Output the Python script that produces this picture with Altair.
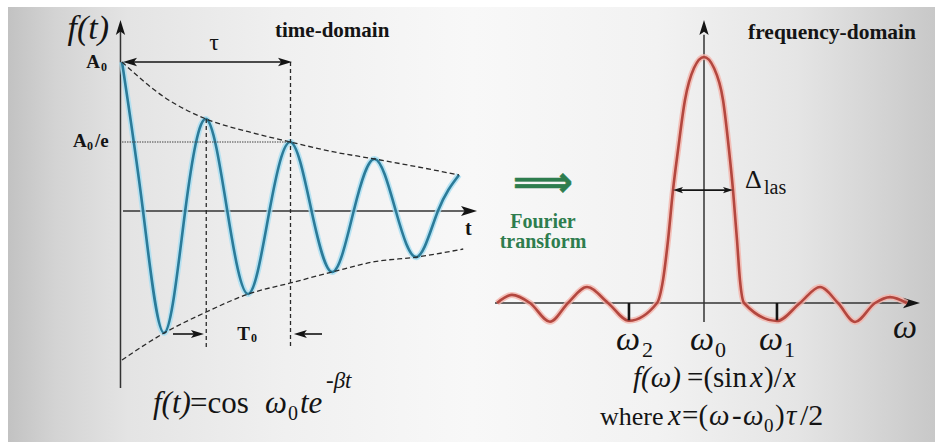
import altair as alt
import pandas as pd

W, H = 938, 447
SERIF = "Liberation Serif"
INK = "#141414"

# ---------------- time domain: damped cosine (t in periods T0, f in units of A0)
t_vals = [0, 0.25, 0.5, 0.75, 1, 1.25, 1.5, 1.75, 2, 2.25, 2.5, 2.75, 3, 3.25, 3.5, 3.75, 4]
f_vals = [1.0, 0, -0.819, 0, 0.617, 0, -0.557, 0, 0.463, 0, -0.409, 0, 0.349, 0, -0.309, 0, 0.242]

env_up_t = [0, 0.5, 1, 1.5, 2, 2.5, 3, 3.5, 4]
env_up = [1.0, 0.765, 0.617, 0.532, 0.463, 0.398, 0.349, 0.297, 0.242]
env_lo_t = [0, 0.5, 1, 1.5, 2, 2.5, 3, 3.5, 4.05]
env_lo = [-1.0, -0.819, -0.678, -0.557, -0.483, -0.409, -0.34, -0.309, -0.255]

A0 = 1.0
A0_e = 0.463
tau = 2.0
T0_marks = [1.0, 2.0]

# ---------------- frequency domain: sinc spectrum (w relative to w0)
w_vals = [-2.797, -2.595, -2.351, -2.081, -1.838, -1.581, -1.297, -1.014, -0.635,
          -0.554, -0.486, -0.419, -0.351, -0.257, -0.135, 0.0, 0.135, 0.257, 0.338,
          0.392, 0.446, 0.486, 0.541, 0.986, 1.297, 1.568, 1.811, 2.041, 2.311, 2.514, 2.743]
s_vals = [0, 0.033, 0, -0.076, 0, 0.065, 0, -0.072, 0,
          0.093, 0.256, 0.459, 0.622, 0.825, 0.955, 1.0, 0.955, 0.825, 0.622,
          0.459, 0.256, 0.093, 0, -0.073, 0, 0.065, 0, -0.077, 0, 0.024, 0]
w_ticks = [-1.014, 0.986]
half_width = [-0.419, 0.392]
half_level = 0.459


def scales(ox, kx, oy, ky):
    """Linear scales putting data origin at pixel (ox, oy), kx / ky pixels per unit."""
    xs = alt.Scale(domain=[-ox / kx, (W - ox) / kx], nice=False, zero=False)
    ys = alt.Scale(domain=[(oy - H) / ky, oy / ky], nice=False, zero=False)
    return xs, ys


SXL, SYL = scales(122, 84.25, 211, 149)
SXR, SYR = scales(704, 74, 303, 246)


def xy(sx, sy, x="x", y="y"):
    return dict(x=alt.X(f"{x}:Q", scale=sx, axis=None), y=alt.Y(f"{y}:Q", scale=sy, axis=None))


def line(xv, yv, sx, sy, **mark):
    df = pd.DataFrame({"x": xv, "y": yv, "i": range(len(xv))})
    return alt.Chart(df).mark_line(**mark).encode(order="i:Q", **xy(sx, sy))


def hrule(x1, x2, y, sx, sy, **mark):
    df = pd.DataFrame({"x": [x1], "x2": [x2], "y": [y]})
    return alt.Chart(df).mark_rule(**mark).encode(
        x=alt.X("x:Q", scale=sx, axis=None), x2="x2:Q", y=alt.Y("y:Q", scale=sy, axis=None))


def vrule(x, y1, y2, sx, sy, **mark):
    df = pd.DataFrame({"x": [x], "y": [y1], "y2": [y2]})
    return alt.Chart(df).mark_rule(**mark).encode(
        x=alt.X("x:Q", scale=sx, axis=None), y=alt.Y("y:Q", scale=sy, axis=None), y2="y2:Q")


ARROW = "M0,0L0.62,2L0,1.55L-0.62,2Z"


def head(x, y, angle, sx, sy, length=14, color=INK):
    df = pd.DataFrame({"x": [x], "y": [y]})
    return alt.Chart(df).mark_point(shape=ARROW, filled=True, size=length ** 2, angle=angle,
                                    color=color, opacity=1, strokeWidth=0).encode(**xy(sx, sy))


def note(x, y, text, sx, sy, size=20, italic=False, bold=False, align="left",
         baseline="alphabetic", dx=0, dy=0, color=INK, font=SERIF, **extra):
    df = pd.DataFrame({"x": [x], "y": [y]})
    if italic:
        extra["fontStyle"] = "italic"
    if bold:
        extra["fontWeight"] = "bold"
    return alt.Chart(df).mark_text(text=text, font=font, fontSize=size, align=align,
                                   baseline=baseline, dx=dx, dy=dy, color=color,
                                   **extra).encode(**xy(sx, sy))


# ---------------- background panel with soft grey gradient
bg = alt.Chart(pd.DataFrame({"k": [0]})).mark_rect(
    color=alt.Gradient(gradient="linear", x1=0, x2=1, y1=0, y2=0, stops=[
        alt.GradientStop(color="#c2c2c2", offset=0),
        alt.GradientStop(color="#d3d3d3", offset=0.05),
        alt.GradientStop(color="#e4e4e4", offset=0.13),
        alt.GradientStop(color="#f0f0f0", offset=0.3),
        alt.GradientStop(color="#f8f8f8", offset=0.5),
        alt.GradientStop(color="#f2f2f2", offset=0.7),
        alt.GradientStop(color="#e5e5e5", offset=0.85),
        alt.GradientStop(color="#d6d6d6", offset=0.93),
        alt.GradientStop(color="#c8c8c8", offset=1),
    ])
).encode(x=alt.value(8), x2=alt.value(935), y=alt.value(7), y2=alt.value(442))

layers = [bg]

# ---------------- left panel
L = (SXL, SYL)
layers += [
    vrule(-0.018, -1.188, 1.22, *L, color="#333", strokeWidth=1.5),
    head(-0.018, 1.282, 0, *L, length=15),
    hrule(0.012, 4.15, 0, *L, color="#333", strokeWidth=1.5),
    head(4.214, 0, 90, *L, length=16),
    line(t_vals, f_vals, *L, color="#a8def2", strokeWidth=6, interpolate="natural", opacity=0.8),
    line(t_vals, f_vals, *L, color="#2b7b99", strokeWidth=2.6, interpolate="natural"),
    line(env_up_t, env_up, *L, color="#2a2a2a", strokeWidth=1.3, strokeDash=[5, 3], interpolate="monotone"),
    line(env_lo_t, env_lo, *L, color="#2a2a2a", strokeWidth=1.3, strokeDash=[5, 3], interpolate="monotone"),
    hrule(0, tau, A0_e, *L, color="#444", strokeWidth=1, strokeDash=[1.5, 1]),
    vrule(T0_marks[0], env_up[2], -0.919, *L, color="#2a2a2a", strokeWidth=1.3, strokeDash=[4, 3]),
    vrule(T0_marks[1], A0, -0.919, *L, color="#2a2a2a", strokeWidth=1.3, strokeDash=[4, 3]),
    # tau span
    hrule(0.1, tau - 0.1, A0, *L, color=INK, strokeWidth=1.6),
    head(0.012, A0, 270, *L, length=14),
    head(tau + 0.018, A0, 90, *L, length=14),
    # T0 pointers
    hrule(0.605, 0.9, -0.8255, *L, color=INK, strokeWidth=1.6),
    head(0.973, -0.8255, 90, *L, length=13),
    hrule(2.1, 2.374, -0.8255, *L, color=INK, strokeWidth=1.6),
    head(2.04, -0.8255, 270, *L, length=13),
    # labels
    note(-0.154, 1.154, "f(t)", *L, size=34, italic=True, align="right"),
    note(-0.261, 0.960, "A", *L, size=19, bold=True, align="right"),
    note(-0.261, 0.960, "0", *L, size=12, bold=True, dx=1, dy=3),
    note(-0.582, 0.430, "A", *L, size=19, bold=True),
    note(-0.582, 0.430, "0", *L, size=12, bold=True, dx=14, dy=3),
    note(-0.582, 0.430, "/e", *L, size=19, bold=True, dx=22),
    note(1.092, 1.08, "τ", *L, size=24, align="center"),
    note(1.816, 1.168, "time-domain", *L, size=21, bold=True),
    note(4.071, -0.161, "t", *L, size=20, bold=True),
    note(1.519, -0.866, "T", *L, size=19, bold=True, align="right"),
    note(1.519, -0.866, "0", *L, size=12, bold=True, dx=1, dy=2),
    # f(t) = cos w0 t e^{-beta t}
    note(0.368, -1.356, "f(t)", *L, size=31, italic=True),
    note(0.368, -1.356, "=cos", *L, size=31, dx=37),
    note(0.368, -1.356, "ω", *L, size=31, italic=True, dx=112),
    note(0.368, -1.356, "0", *L, size=20, dx=135, dy=7),
    note(0.368, -1.356, "te", *L, size=31, italic=True, dx=147),
    note(0.368, -1.356, "-βt", *L, size=23, italic=True, dx=173, dy=-25),
]

# ---------------- right panel
R = (SXR, SYR)
GREEN = "#2e7d4e"
layers += [
    vrule(0, -0.077, 1.09, *R, color="#333", strokeWidth=1.5),
    head(0, 1.150, 0, *R, length=15),
    hrule(-2.824, 2.86, 0, *R, color="#333", strokeWidth=1.5),
    head(2.919, 0, 90, *R, length=17),
    line(w_vals, s_vals, *R, color="#f4b4ab", strokeWidth=6, interpolate="monotone", opacity=0.8),
    line(w_vals, s_vals, *R, color="#b3473f", strokeWidth=2.6, interpolate="monotone"),
    vrule(w_ticks[0], 0, -0.07, *R, color=INK, strokeWidth=2.6),
    vrule(w_ticks[1], 0, -0.07, *R, color=INK, strokeWidth=2.6),
    hrule(half_width[0] + 0.08, half_width[1] - 0.08, half_level, *R, color=INK, strokeWidth=1.6),
    head(half_width[0], half_level, 270, *R, length=10),
    head(half_width[1], half_level, 90, *R, length=10),
    note(0.554, 0.459, "Δ", *R, size=26, dy=-2),
    note(0.554, 0.459, "las", *R, size=20, dx=19, dy=4),
    note(0.595, 1.0976, "frequency-domain", *R, size=21.5, bold=True, baseline="middle"),
    note(w_ticks[0], -0.191, "ω", *R, size=34, italic=True, align="center", dx=-1),
    note(w_ticks[0], -0.191, "2", *R, size=22, dx=13, dy=7),
    note(0, -0.191, "ω", *R, size=34, italic=True, align="center", dx=-2),
    note(0, -0.191, "0", *R, size=22, dx=11, dy=7),
    note(w_ticks[1], -0.191, "ω", *R, size=34, italic=True, align="center", dx=-6),
    note(w_ticks[1], -0.191, "1", *R, size=22, dx=7, dy=7),
    note(2.716, -0.142, "ω", *R, size=34, italic=True, align="center"),
    # transform arrow between the panels
    note(-2.176, 0.488, "⟹", *R, size=42, bold=True, align="center", baseline="middle",
         color=GREEN, font="DejaVu Sans", stroke=GREEN, strokeWidth=0.6),
    note(-2.176, 0.305, "Fourier", *R, size=20, bold=True, align="center", color=GREEN),
    note(-2.176, 0.224, "transform", *R, size=20, bold=True, align="center", color=GREEN),
    # f(w) = (sin x)/x
    note(-0.959, -0.341, "f(ω)", *R, size=29, italic=True),
    note(-0.959, -0.341, "=(sin", *R, size=29, dx=54),
    note(-0.959, -0.341, "x", *R, size=29, italic=True, dx=117),
    note(-0.959, -0.341, ")/", *R, size=29, dx=131),
    note(-0.959, -0.341, "x", *R, size=29, italic=True, dx=150),
    # where x = (w - w0) tau / 2
    note(-1.405, -0.496, "where", *R, size=26),
    note(-1.405, -0.496, "x", *R, size=29, italic=True, dx=68),
    note(-1.405, -0.496, "=(", *R, size=29, dx=82),
    note(-1.405, -0.496, "ω", *R, size=29, italic=True, dx=109),
    note(-1.405, -0.496, "-", *R, size=29, dx=132),
    note(-1.405, -0.496, "ω", *R, size=29, italic=True, dx=143),
    note(-1.405, -0.496, "0", *R, size=19, dx=164, dy=7),
    note(-1.405, -0.496, ")", *R, size=29, dx=175),
    note(-1.405, -0.496, "τ", *R, size=29, italic=True, dx=186),
    note(-1.405, -0.496, "/2", *R, size=30, dx=200),
]

chart = alt.layer(*layers).resolve_scale(x="independent", y="independent").properties(
    width=W, height=H, padding=0, background="white",
    autosize=alt.AutoSizeParams(type="none"),
).configure_view(stroke=None).configure_text(font=SERIF)

chart.save("out.html", embed_options={"renderer": "svg", "actions": False})
